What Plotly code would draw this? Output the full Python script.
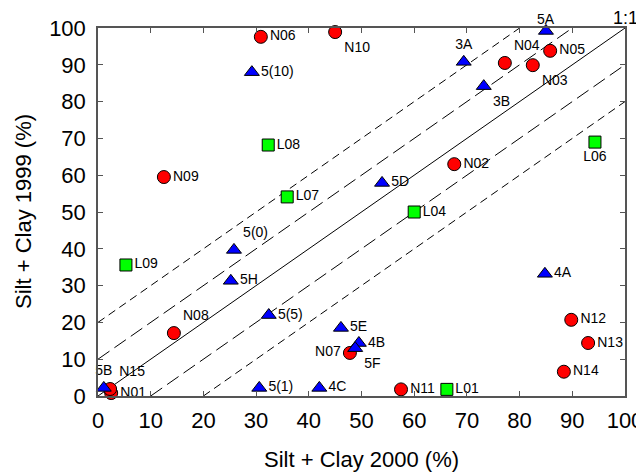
import plotly.graph_objects as go

# ---- data ----
n_names = ["N01", "N02", "N03", "N04", "N05", "N06", "N07", "N08", "N09", "N10",
           "N11", "N12", "N13", "N14", "N15"]
n_x2000 = [2.5, 67.6, 82.5, 77.2, 85.8, 30.9, 47.8, 14.4, 12.5, 45.0,
           57.5, 89.8, 93.0, 88.4, 2.3]
n_y1999 = [0.8, 63.0, 89.9, 90.5, 93.8, 97.6, 11.7, 17.1, 59.5, 98.9,
           1.8, 20.7, 14.4, 6.6, 1.9]

t_names = ["3A", "3B", "4A", "4B", "4C", "5A", "5B", "5D", "5E", "5F",
           "5H", "5(0)", "5(1)", "5(5)", "5(10)"]
t_x2000 = [69.4, 73.2, 84.8, 49.5, 42.0, 85.0, 1.1, 53.9, 46.1, 48.8,
           25.2, 25.8, 30.6, 32.4, 29.2]
t_y1999 = [90.8, 84.2, 33.2, 14.4, 2.2, 99.2, 2.2, 57.9, 18.5, 13.0,
           31.3, 39.7, 2.2, 22.0, 88.0]

l_names = ["L01", "L04", "L06", "L07", "L08", "L09"]
l_x2000 = [66.2, 60.0, 94.3, 35.9, 32.3, 5.3]
l_y1999 = [1.8, 50.0, 69.0, 54.1, 68.2, 35.6]

ref_offsets = [-20, -10, 0, 10, 20]   # lines y = x + offset
axis_ticks = [0, 10, 20, 30, 40, 50, 60, 70, 80, 90, 100]
x_title = "Silt + Clay 2000 (%)"
y_title = "Silt + Clay 1999 (%)"

# ---- label placement (style) ----
n_pos = {"N03": "bottom right", "N04": "top right", "N07": "middle left",
         "N08": "top right", "N10": "bottom right", "N15": "top right"}
t_pos = {"3A": "top center", "3B": "bottom right", "5A": "top center",
         "5B": "top center", "5F": "bottom right", "5(0)": "top right"}
l_pos = {"L06": "bottom center"}
tight_top = ["5A"]   # labels set just above the marker, drawn as annotations

FONT = "Arial, Liberation Sans, sans-serif"
lo, hi = axis_ticks[0], axis_ticks[-1]

fig = go.Figure()

# reference lines derived from offsets, clipped to axis range
dash_style = {0: "solid", 10: "14px,6px", 20: "8px,5px"}
for off in ref_offsets:
    x0 = max(lo, lo - off)
    x1 = min(hi, hi - off)
    fig.add_trace(go.Scatter(
        x=[x0, x1], y=[x0 + off, x1 + off], mode="lines",
        line=dict(color="black", width=1, dash=dash_style[abs(off)]),
        hoverinfo="skip", showlegend=False))

def add_group(xs, ys, names, posmap, symbol, color, size):
    shown = ["" if n in tight_top else n for n in names]
    fig.add_trace(go.Scatter(
        x=xs, y=ys, text=shown, mode="markers+text",
        textposition=[posmap.get(n, "middle right") for n in names],
        textfont=dict(family=FONT, size=14, color="black"),
        marker=dict(symbol=symbol, color=color, size=size,
                    line=dict(color="black", width=1)),
        cliponaxis=False, showlegend=False))
    for xv, yv, n in zip(xs, ys, names):
        if n in tight_top:
            fig.add_annotation(x=xv, y=yv, text=n, showarrow=False,
                               yshift=12, xanchor="center", yanchor="middle",
                               font=dict(family=FONT, size=14, color="black"))

add_group(n_x2000, n_y1999, n_names, n_pos, "circle", "#ff0000", 13)
add_group(t_x2000, t_y1999, t_names, t_pos, "triangle-up", "#0000ff", 13)
add_group(l_x2000, l_y1999, l_names, l_pos, "square", "#00ff00", 12)

axis_common = dict(
    range=[lo, hi], tickvals=axis_ticks, ticks="inside", ticklen=5,
    tickcolor="#555", tickwidth=1, showline=True, linecolor="#555",
    linewidth=1.5, mirror="ticks", showgrid=False, zeroline=False,
    automargin=False,
    tickfont=dict(family=FONT, size=22, color="black"),
)
fig.update_xaxes(**axis_common, ticklabelstandoff=4)
fig.update_yaxes(**axis_common, ticklabelstandoff=6)

# axis titles placed as annotations (no automargin shifts)
fig.add_annotation(text=x_title, xref="paper", yref="paper", x=0.5,
                   y=-63 / 368, xanchor="center", yanchor="middle",
                   showarrow=False, font=dict(family=FONT, size=22, color="black"))
fig.add_annotation(text=y_title, xref="paper", yref="paper", x=-75 / 527,
                   y=0.5, xanchor="center", yanchor="middle", textangle=-90,
                   showarrow=False, font=dict(family=FONT, size=22, color="black"))

fig.add_annotation(text="1:1", xref="paper", yref="paper", x=(612 - 98) / 527,
                   y=(396 - 18) / 368, xanchor="left", yanchor="middle",
                   showarrow=False, borderpad=0,
                   font=dict(family=FONT, size=18, color="black"))

# page body has an 8px default margin, so the figure is 8px smaller
fig.update_layout(
    width=636, height=466, margin=dict(l=90, r=19, t=20, b=78),
    paper_bgcolor="white", plot_bgcolor="white", showlegend=False,
)

fig.write_html("out.html")
